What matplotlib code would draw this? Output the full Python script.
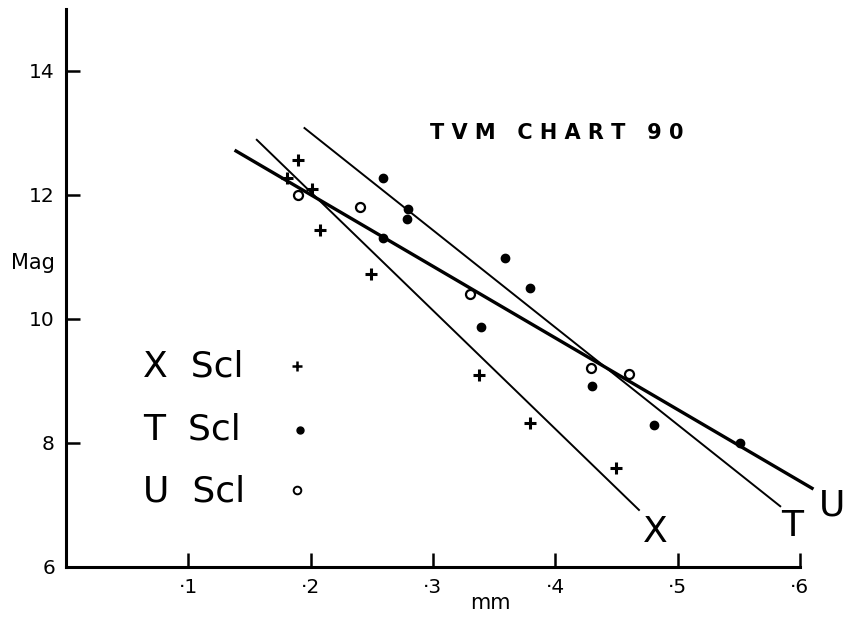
import numpy as np
import matplotlib
matplotlib.use("Agg")
import matplotlib.pyplot as plt

# X Scl (+)
x_mm = [0.181, 0.190, 0.201, 0.208, 0.249, 0.338, 0.379, 0.450]
x_mag = [12.27, 12.56, 12.10, 11.44, 10.73, 9.10, 8.32, 7.60]

# T Scl (filled dots)
t_mm = [0.259, 0.280, 0.279, 0.259, 0.359, 0.379, 0.339, 0.430, 0.481, 0.551]
t_mag = [12.27, 11.77, 11.61, 11.31, 10.98, 10.50, 9.87, 8.92, 8.29, 8.00]

# U Scl (open circles)
u_mm = [0.190, 0.240, 0.330, 0.429, 0.460]
u_mag = [12.00, 11.81, 10.40, 9.21, 9.11]

# fitted lines: (start mm, end mm), (start mag, end mag)
x_fit = ([0.156, 0.4685], [12.89, 6.92])
t_fit = ([0.195, 0.584], [13.08, 6.98])
u_fit = ([0.139, 0.610], [12.71, 7.27])

xticks = [0.1, 0.2, 0.3, 0.4, 0.5, 0.6]
xtick_labels = ["·1", "·2", "·3", "·4", "·5", "·6"]
yticks = [6, 8, 10, 12, 14]
ytick_labels = ["6", "8", "10", "12", "14"]

fig = plt.figure(figsize=(8.46, 6.17), dpi=100)
ax = fig.add_axes([66 / 846, 50 / 617, 780 / 846, 558 / 617])
ax.set_xlim(0, 780 / 1223)
ax.set_ylim(6, 6 + 558 / 62)

for s in ["top", "right"]:
    ax.spines[s].set_visible(False)
ax.spines["left"].set_linewidth(2.2)
ax.spines["bottom"].set_linewidth(2.2)
ax.spines["bottom"].set_bounds(0, 0.6)

ax.set_xticks(xticks)
ax.set_xticklabels(xtick_labels, fontsize=14.5)
ax.set_yticks(yticks)
ax.set_yticklabels(ytick_labels, fontsize=14.5)
ax.tick_params(direction="in", length=10, width=1.8, pad=8)

# fitted lines
ax.plot(*x_fit, color="black", lw=1.4)
ax.plot(*t_fit, color="black", lw=1.4)
ax.plot(*u_fit, color="black", lw=2.4, clip_on=False)

# points
ax.plot(x_mm, x_mag, "+", color="black", ms=9, mew=2.2)
ax.plot(t_mm, t_mag, "o", color="black", ms=6)
ax.plot(u_mm, u_mag, "o", mfc="white", mec="black", ms=6.5, mew=1.6)

# line labels
ax.text(0.4816, 6.56, "X", fontsize=26, ha="center", va="center")
ax.text(0.5937, 6.66, "T", fontsize=26, ha="center", va="center")
ax.text(0.626, 7.00, "U", fontsize=26, ha="center", va="center", clip_on=False)

# title
ax.text(0.401, 13.0, "T V M   C H A R T   9 0", fontsize=15, fontweight="bold",
        ha="center", va="center")

# legend
leg_rows = [("X  Scl", 9.23), ("T  Scl", 8.21), ("U  Scl", 7.21)]
for label, yy in leg_rows:
    ax.text(0.063, yy, label, fontsize=26, ha="left", va="center")
ax.plot(0.189, 9.25, "+", color="black", ms=7, mew=1.8)
ax.plot(0.191, 8.21, "o", color="black", ms=5)
ax.plot(0.189, 7.25, "o", mfc="white", mec="black", ms=5.5, mew=1.4)

ax.set_xlabel("mm", fontsize=15, va="center")
ax.xaxis.set_label_coords((490 - 66) / 780, -36 / 558)
ax.set_ylabel("Mag", fontsize=15, rotation=0, ha="center", va="center")
ax.yaxis.set_label_coords(-33 / 780, (567 - 263) / 558)

fig.savefig("out.png", dpi=100)
